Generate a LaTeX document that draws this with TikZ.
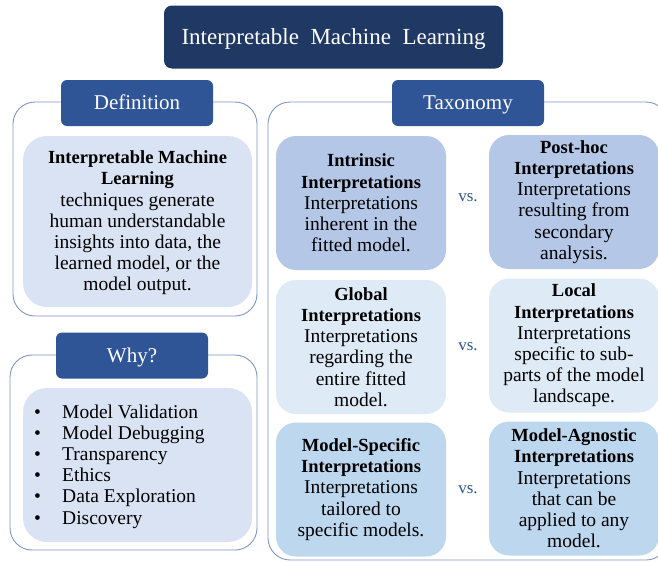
\documentclass[tikz,border=0pt]{standalone}
\usepackage{fontspec}
\setmainfont{Liberation Serif}
\definecolor{navy}{HTML}{203864}
\definecolor{tabblue}{HTML}{2F5597}
\definecolor{outline}{HTML}{7F96C4}
\definecolor{defill}{HTML}{DAE3F3}
\definecolor{rowA}{HTML}{B4C7E7}
\definecolor{rowB}{HTML}{DEEBF7}
\definecolor{rowC}{HTML}{BDD7EE}
\definecolor{vsblue}{HTML}{2F5597}
\newcommand{\bodyfont}{\fontsize{19.5}{21.2}\selectfont}
\newcommand{\hd}[1]{{\fontsize{18.5}{21.2}\selectfont\bfseries #1}}
\tikzset{
  titlebox/.style={fill=navy, rounded corners=8pt, text=white, minimum width=339pt, minimum height=63pt, inner sep=0pt, text height=15.2pt, text depth=0pt, font=\fontsize{23}{27}\selectfont},
  tabbox/.style={fill=tabblue, rounded corners=6pt, text=white, minimum width=152pt, minimum height=46pt, inner sep=0pt, text height=13.9pt, text depth=0pt, font=\fontsize{21}{25}\selectfont},
  outerbox/.style={draw=outline, line width=0.9pt, fill=white, rounded corners=22pt, inner sep=0pt},
  innerbox/.style={fill=defill, rounded corners=24pt, inner sep=0pt, align=center, font=\bodyfont},
  cellbox/.style={rounded corners=20pt, minimum width=170pt, minimum height=134pt, inner sep=0pt, align=center, font=\bodyfont},
  vslabel/.style={text=vsblue, font=\fontsize{17}{20}\selectfont, inner sep=0pt},
}
\begin{document}
\begin{tikzpicture}[x=1pt,y=-1pt]
\useasboundingbox (0,0) rectangle (658,562);
% title
\node[titlebox] (title) at (333.5,37) {Interpretable\ \ Machine\ \ Learning};
% containers
\node[outerbox, minimum width=244pt, minimum height=214pt] (defouter) at (135,209) {};
\node[outerbox, minimum width=247pt, minimum height=195pt] (whyouter) at (133.5,452.5) {};
\node[outerbox, minimum width=400pt, minimum height=458pt] (taxouter) at (468,331) {};
% tabs
\node[tabbox] (deftab) at (137,103) {Definition};
\node[tabbox] (whytab) at (132,355.5) {Why?};
\node[tabbox] (taxtab) at (468,103) {Taxonomy};
% definition
\node[innerbox, minimum width=229pt, minimum height=171pt] (definner) at (137.5,221.5) {};
\node[inner sep=0pt, align=center, font=\bodyfont] (deftext) at (137.5,223)
  {\hd{Interpretable Machine}\\ \hd{Learning}\\ techniques generate\\ human understandable\\ insights into data, the\\ learned model, or the\\ model output.};
% why
\node[innerbox, minimum width=229pt, minimum height=154pt] (whyinner) at (137.5,465) {};
\node[anchor=west, align=left, inner sep=0pt, font=\bodyfont] (whylist) at (34,466.5)
  {\makebox[28pt][l]{\textbullet}Model Validation\\
   \makebox[28pt][l]{\textbullet}Model Debugging\\
   \makebox[28pt][l]{\textbullet}Transparency\\
   \makebox[28pt][l]{\textbullet}Ethics\\
   \makebox[28pt][l]{\textbullet}Data Exploration\\
   \makebox[28pt][l]{\textbullet}Discovery};
% taxonomy cells
\node[cellbox, fill=rowA] (intrinsic) at (361,203)
  {\hd{Intrinsic}\\ \hd{Interpretations}\\ Interpretations\\ inherent in the\\ fitted model.};
\node[cellbox, fill=rowA] (posthoc) at (574,202)
  {\hd{Post-hoc}\\ \hd{Interpretations}\\ Interpretations\\ resulting from\\ secondary\\ analysis.};
\node[cellbox, fill=rowB] (global) at (361,347)
  {\hd{Global}\\ \hd{Interpretations}\\ Interpretations\\ regarding the\\ entire fitted\\ model.};
\node[cellbox, fill=rowB] (local) at (574,345.5)
  {\hd{Local}\\ \hd{Interpretations}\\ Interpretations\\ specific to sub-\\ parts of the model\\ landscape.};
\node[cellbox, fill=rowC] (specific) at (361,489.5)
  {\hd{Model-Specific}\\ \hd{Interpretations}\\ Interpretations\\ tailored to\\ specific models.};
\node[cellbox, fill=rowC] (agnostic) at (574,488.5)
  {\hd{Model-Agnostic}\\ \hd{Interpretations}\\ Interpretations\\ that can be\\ applied to any\\ model.};
% vs labels
\node[vslabel] (vsA) at (468,198) {vs.};
\node[vslabel] (vsB) at (468,347) {vs.};
\node[vslabel] (vsC) at (468,490) {vs.};
\end{tikzpicture}
\end{document}
